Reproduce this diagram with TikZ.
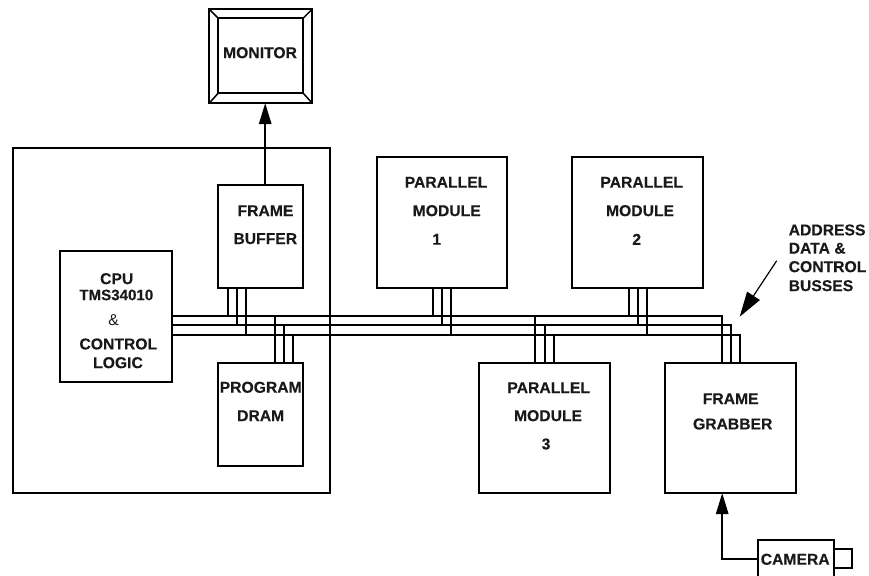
\documentclass[tikz,border=0pt]{standalone}
\usepackage{fontspec}
\setmainfont[BoldFeatures={FakeBold=0.2}]{Liberation Sans}
\usetikzlibrary{arrows.meta}
\tikzset{
  boxnode/.style={draw=black,line width=1.75pt,inner sep=0pt,outer sep=0pt,fill=none},
  lbl/.style={inner sep=0pt,outer sep=0pt,text=black!90,font=\fontsize{15.7}{18}\selectfont\bfseries},
  lblreg/.style={inner sep=0pt,outer sep=0pt,text=black!90,font=\fontsize{15.7}{18}\selectfont},
  lbltight/.style={lbl,font=\fontsize{15.1}{18}\selectfont\bfseries},
  lblleft/.style={lbl,anchor=west},
  busline/.style={draw=black,line width=1.75pt},
  thinarrow/.style={draw=black,line width=1.5pt,-{Triangle[length=21pt,width=12.5pt]}},
  bigarrow/.style={draw=black,line width=1.2pt,-{Triangle[length=25pt,width=15pt]}},
}
\begin{document}
\begin{tikzpicture}[x=1pt,y=-1pt]
\path[use as bounding box] (0,0) rectangle (869,575);
\clip (0,0) rectangle (869,575);
\begin{scope}[shift={(-0.3,-0.3)}]
% boxes
\node[boxnode,minimum width=103,minimum height=94] (mon) at (261,56.5) {};
\node[boxnode,minimum width=85,minimum height=75] (moni) at (261,56) {};
\node[boxnode,minimum width=317,minimum height=345] (main) at (172,321) {};
\node[boxnode,minimum width=85,minimum height=103] (fb) at (261,237) {};
\node[boxnode,minimum width=112,minimum height=131] (cpu) at (116.5,317) {};
\node[boxnode,minimum width=85,minimum height=103] (dram) at (261,415) {};
\node[boxnode,minimum width=130,minimum height=131] (pm1) at (442.5,223) {};
\node[boxnode,minimum width=131,minimum height=131] (pm2) at (638,223) {};
\node[boxnode,minimum width=131,minimum height=130] (pm3) at (545,428.5) {};
\node[boxnode,minimum width=131,minimum height=130] (grab) at (731,428.5) {};
\node[boxnode,minimum width=76,minimum height=38] (cam) at (796.5,559.5) {};
\node[boxnode,minimum width=18,minimum height=19] (lens) at (843.5,559) {};
% monitor bevel
\foreach \c in {north west,north east,south west,south east}
  \draw[line width=1.5pt,draw=black] (mon.\c) -- (moni.\c);
% bus levels and junction columns
\coordinate (busA) at (0,316.5);
\coordinate (busB) at (0,325.5);
\coordinate (busC) at (0,335.5);
\coordinate (gA) at (722.5,0);
\coordinate (gB) at (731.5,0);
\coordinate (gC) at (740.5,0);
% main bus runs
\draw[busline] (cpu.east |- busA) -| (grab.north -| gA);
\draw[busline] (cpu.east |- busB) -| (grab.north -| gB);
\draw[busline] (cpu.east |- busC) -| (grab.north -| gC);
% stubs from upper boxes
\foreach \n/\a/\b/\c in {fb/228.5/237.5/246.5,pm1/433.5/442.5/451.5,pm2/629.5/638.5/647.5}{
  \draw[busline] (\a,0 |- \n.south) -- (\a,0 |- busA);
  \draw[busline] (\b,0 |- \n.south) -- (\b,0 |- busB);
  \draw[busline] (\c,0 |- \n.south) -- (\c,0 |- busC);
}
% stubs from lower boxes
\foreach \n/\a/\b/\c in {dram/275.5/284.5/293.5,pm3/535.5/545.5/554.5}{
  \draw[busline] (\a,0 |- \n.north) -- (\a,0 |- busA);
  \draw[busline] (\b,0 |- \n.north) -- (\b,0 |- busB);
  \draw[busline] (\c,0 |- \n.north) -- (\c,0 |- busC);
}
% arrows
\coordinate (mx) at (265.5,0);
\draw[thinarrow] (mx |- fb.north) -- (mx |- mon.south);
\draw[thinarrow] (cam.west) -| (grab.south -| gA);
\coordinate (addrtail) at (777,261);
\coordinate (addrtip) at (740,317);
\draw[bigarrow] (addrtail) -- (addrtip);
\end{scope}
% labels
\node[lbl] (tmon) at (260,52.7) {MONITOR};
\node[lbl] (tfb1) at (265.5,210.7) {FRAME};
\node[lbl] (tfb2) at (265.3,238.7) {BUFFER};
\node[lbl] (tc1) at (116.7,278.7) {CPU};
\node[lbltight] (tc2) at (116.3,295) {TMS34010};
\node[lblreg] (tc3) at (113.7,320) {\&};
\node[lbl] (tc4) at (118.3,344) {CONTROL};
\node[lbl] (tc5) at (118,362.7) {LOGIC};
\node[lbl] (td1) at (260.7,387.3) {PROGRAM};
\node[lbl] (td2) at (260.7,415.7) {DRAM};
\node[lbl] (tp11) at (446,182.3) {PARALLEL};
\node[lbl] (tp12) at (446.7,210.7) {MODULE};
\node[lbl] (tp13) at (436.7,239.3) {1};
\node[lbl] (tp21) at (641.7,182.3) {PARALLEL};
\node[lbl] (tp22) at (640,210.7) {MODULE};
\node[lbl] (tp23) at (636.7,239.3) {2};
\node[lbl] (tp31) at (548.7,387.7) {PARALLEL};
\node[lbl] (tp32) at (548,415.7) {MODULE};
\node[lbl] (tp33) at (546,444) {3};
\node[lbl] (tg1) at (730.7,398.7) {FRAME};
\node[lbl] (tg2) at (732.7,424) {GRABBER};
\node[lblleft] (ta1) at (788.7,230) {ADDRESS};
\node[lblleft] (ta2) at (788.7,248.3) {DATA \&};
\node[lblleft] (ta3) at (788.7,266.7) {CONTROL};
\node[lblleft] (ta4) at (788.7,285.7) {BUSSES};
\node[lbl] (tcam) at (795.2,559.3) {CAMERA};
\end{tikzpicture}
\end{document}
